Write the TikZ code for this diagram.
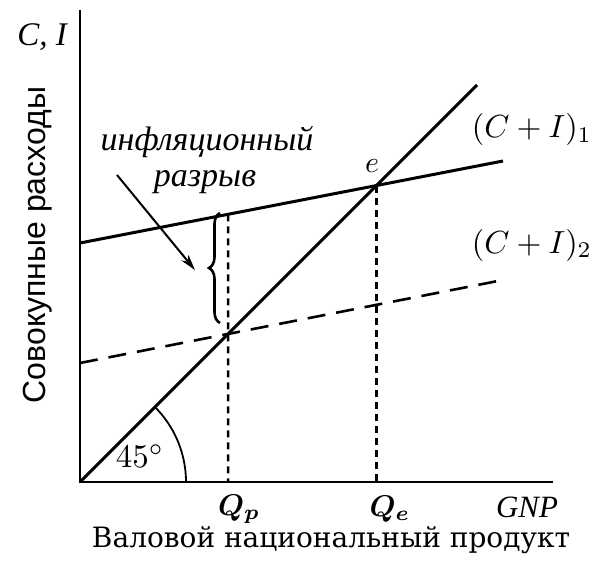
\documentclass[tikz,border=0pt]{standalone}
\usepackage{fontspec}
\usepackage{amsmath,bm}
\usetikzlibrary{decorations.pathreplacing,arrows.meta,calc}
\newfontfamily\ruserif{DejaVu Serif}
\newfontfamily\rusans{Liberation Sans}
\newfontfamily\ruital{Liberation Serif}
\begin{document}
\begin{tikzpicture}[x=1pt,y=1pt,
  thick line/.style={line width=3pt},
  axisline/.style={line width=2.8pt},
  dashline/.style={line width=2.6pt,dash pattern=on 18pt off 11pt},
  dotline/.style={line width=2.6pt,dash pattern=on 7pt off 5pt},
  lbl/.style={inner sep=0pt}]
\useasboundingbox (0,0) rectangle (596,560);
% axes
\coordinate (O) at (80,78);
\coordinate (Ytop) at (80,550);
\coordinate (Xend) at (553,78);
\draw[axisline] (Ytop) -- (O) -- (Xend);
% 45 degree line
\coordinate (D1) at (477,475);
\draw[thick line] (O) -- (D1);
% (C+I)1
\coordinate (A1) at (80,317);
\coordinate (A2) at (503,399);
\draw[thick line] (A1) -- (A2);
% (C+I)2
\coordinate (B1) at (80,197);
\coordinate (B2) at (503,280);
\draw[dashline] (B1) -- (B2);
% intersections
\coordinate (e) at (intersection of O--D1 and A1--A2);
\coordinate (p) at (intersection of O--D1 and B1--B2);
\coordinate (p2) at ($(p)+(0,10)$);
\coordinate (pu) at (intersection of p--p2 and A1--A2);
\draw[dotline] (e) -- (e |- O);
\draw[dotline] (pu) -- (p |- O);
% brace
\coordinate (br1) at (220,237);
\coordinate (br2) at (220,347);
\draw[line width=2.6pt,decorate,decoration={brace,amplitude=11pt}] (br1) -- (br2);
% arrow
\coordinate (arS) at (117,385);
\coordinate (arE) at (195,290);
\draw[line width=2pt,-{Stealth[length=16pt,width=9pt]}] (arS) -- (arE);
% 45 arc
\draw[line width=1.8pt] ([shift={(0:106)}]O) arc[start angle=0,end angle=45,radius=106];
% labels
\node[lbl] (CI) at (42,523) {\fontsize{33}{36}\selectfont\ruital\itshape C, I};
\node[lbl,rotate=90] (ylab) at (38,315) {\fontsize{32}{36}\selectfont\rusans Совокупные расходы};
\node[lbl] (inf1) at (207,418) {\fontsize{34}{38}\selectfont\ruital\itshape инфляционный};
\node[lbl] (inf2) at (205,378) {\fontsize{34}{38}\selectfont\ruital\itshape разрыв};
\node[lbl] (elab) at (372,394) {\scalebox{3.0}{$e$}};
\node[lbl] (L1) at (532,430) {\scalebox{3.2}{$(C+I)_1$}};
\node[lbl] (L2) at (532,315) {\scalebox{3.2}{$(C+I)_2$}};
\node[lbl] (ang) at (140,104) {\scalebox{3.3}{$45^\circ$}};
\node[lbl] (Qp) at (239,51) {\scalebox{3.0}{$\bm{Q_p}$}};
\node[lbl] (Qe) at (390,51) {\scalebox{3.0}{$\bm{Q_e}$}};
\node[lbl] (gnp) at (527,53) {\fontsize{31}{33}\selectfont\ruital\itshape GNP};
\node[lbl] (xlab) at (331,20) {\fontsize{28}{30}\selectfont\ruserif Валовой национальный продукт};
\end{tikzpicture}
\end{document}
